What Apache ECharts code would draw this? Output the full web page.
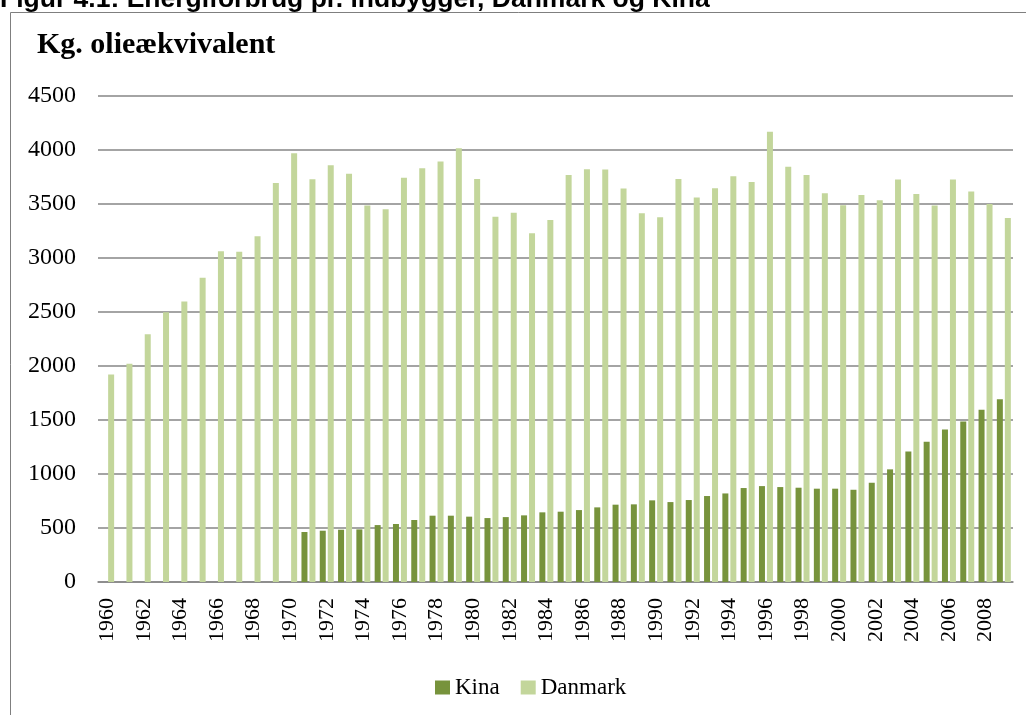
<!DOCTYPE html>
<html>
<head>
<meta charset="utf-8">
<script src="https://cdn.jsdelivr.net/npm/echarts@6/dist/echarts.min.js"></script>
<style>
  html, body { margin: 0; padding: 0; background: #fff; }
  #chart { width: 1026px; height: 715px; }
</style>
</head>
<body>
<div id="chart"></div>
<script>
// år 1960-2009
var years = [];
for (var y = 1960; y <= 2009; y++) years.push(String(y));

// Kina: ingen data før 1971
var kina = [
    null, null, null, null, null, null, null, null, null, null, null,
    463, 475, 484, 487, 527, 537, 574, 614, 614, 605,
    592, 601, 617, 645, 651, 666, 691, 716, 719, 756,
    740, 759, 796, 820, 870, 888, 879, 873, 864, 864,
    854, 919, 1043, 1209, 1299, 1413, 1487, 1595, 1693
];

var danmark = [
    1922, 2020, 2295, 2498, 2597, 2816, 3063, 3057, 3202, 3695,
    3970, 3729, 3859, 3779, 3485, 3452, 3742, 3831, 3893, 4016,
    3732, 3381, 3418, 3230, 3353, 3769, 3822, 3819, 3643, 3415,
    3378, 3732, 3560, 3646, 3757, 3704, 4170, 3846, 3769, 3600,
    3489, 3584, 3535, 3726, 3593, 3485, 3726, 3615, 3501, 3371
];

var chart = echarts.init(document.getElementById('chart'));
var serif = '"Liberation Serif", "Times New Roman", serif';

var option = {
    animation: false,
    backgroundColor: '#fff',
    textStyle: { fontFamily: serif },
    graphic: [
        {
            type: 'rect',
            shape: { x: 10.5, y: 12.5, width: 1200, height: 900 },
            style: { fill: 'none', stroke: '#7f7f7f', lineWidth: 1 },
            silent: true
        },
        {
            // overskriften er skåret af i toppen
            type: 'text',
            left: 0, top: -14,
            style: {
                text: 'Figur 4.1: Energiforbrug pr. indbygger, Danmark og Kina',
                font: 'bold 26.5px "Liberation Sans", Arial, sans-serif',
                fill: '#000'
            }
        },
        {
            type: 'text',
            left: 37, top: 30,
            style: {
                text: 'Kg. olieækvivalent',
                font: 'bold 30px ' + serif,
                fill: '#000'
            }
        }
    ],
    legend: {
        left: 430, top: 671,
        itemWidth: 15, itemHeight: 14, itemGap: 21,
        icon: 'rect',
        textStyle: { fontFamily: serif, fontSize: 23, color: '#000' },
        data: ['Kina', 'Danmark']
    },
    grid: { left: 98, right: 13, top: 96, bottom: 133, containLabel: false },
    xAxis: {
        type: 'category',
        data: years,
        axisLine: { lineStyle: { color: '#868686', width: 1.5 } },
        axisTick: { show: false },
        axisLabel: {
            interval: 1, rotate: 90, margin: 16,
            fontFamily: serif, fontSize: 22, color: '#000'
        }
    },
    yAxis: {
        type: 'value',
        min: 0, max: 4500, interval: 500,
        axisLine: { show: false },
        axisTick: { show: false },
        splitLine: { lineStyle: { color: '#868686', width: 1.5 } },
        axisLabel: {
            margin: 22, fontFamily: serif, fontSize: 24, color: '#000',
            formatter: function (v) { return String(v); }
        }
    },
    series: [
        {
            name: 'Kina', type: 'bar', data: kina,
            barWidth: 6, barGap: '33%',
            itemStyle: { color: '#77933C' }
        },
        {
            name: 'Danmark', type: 'bar', data: danmark,
            barWidth: 6,
            itemStyle: { color: '#C3D69B' }
        }
    ]
};

chart.setOption(option);
</script>
</body>
</html>
